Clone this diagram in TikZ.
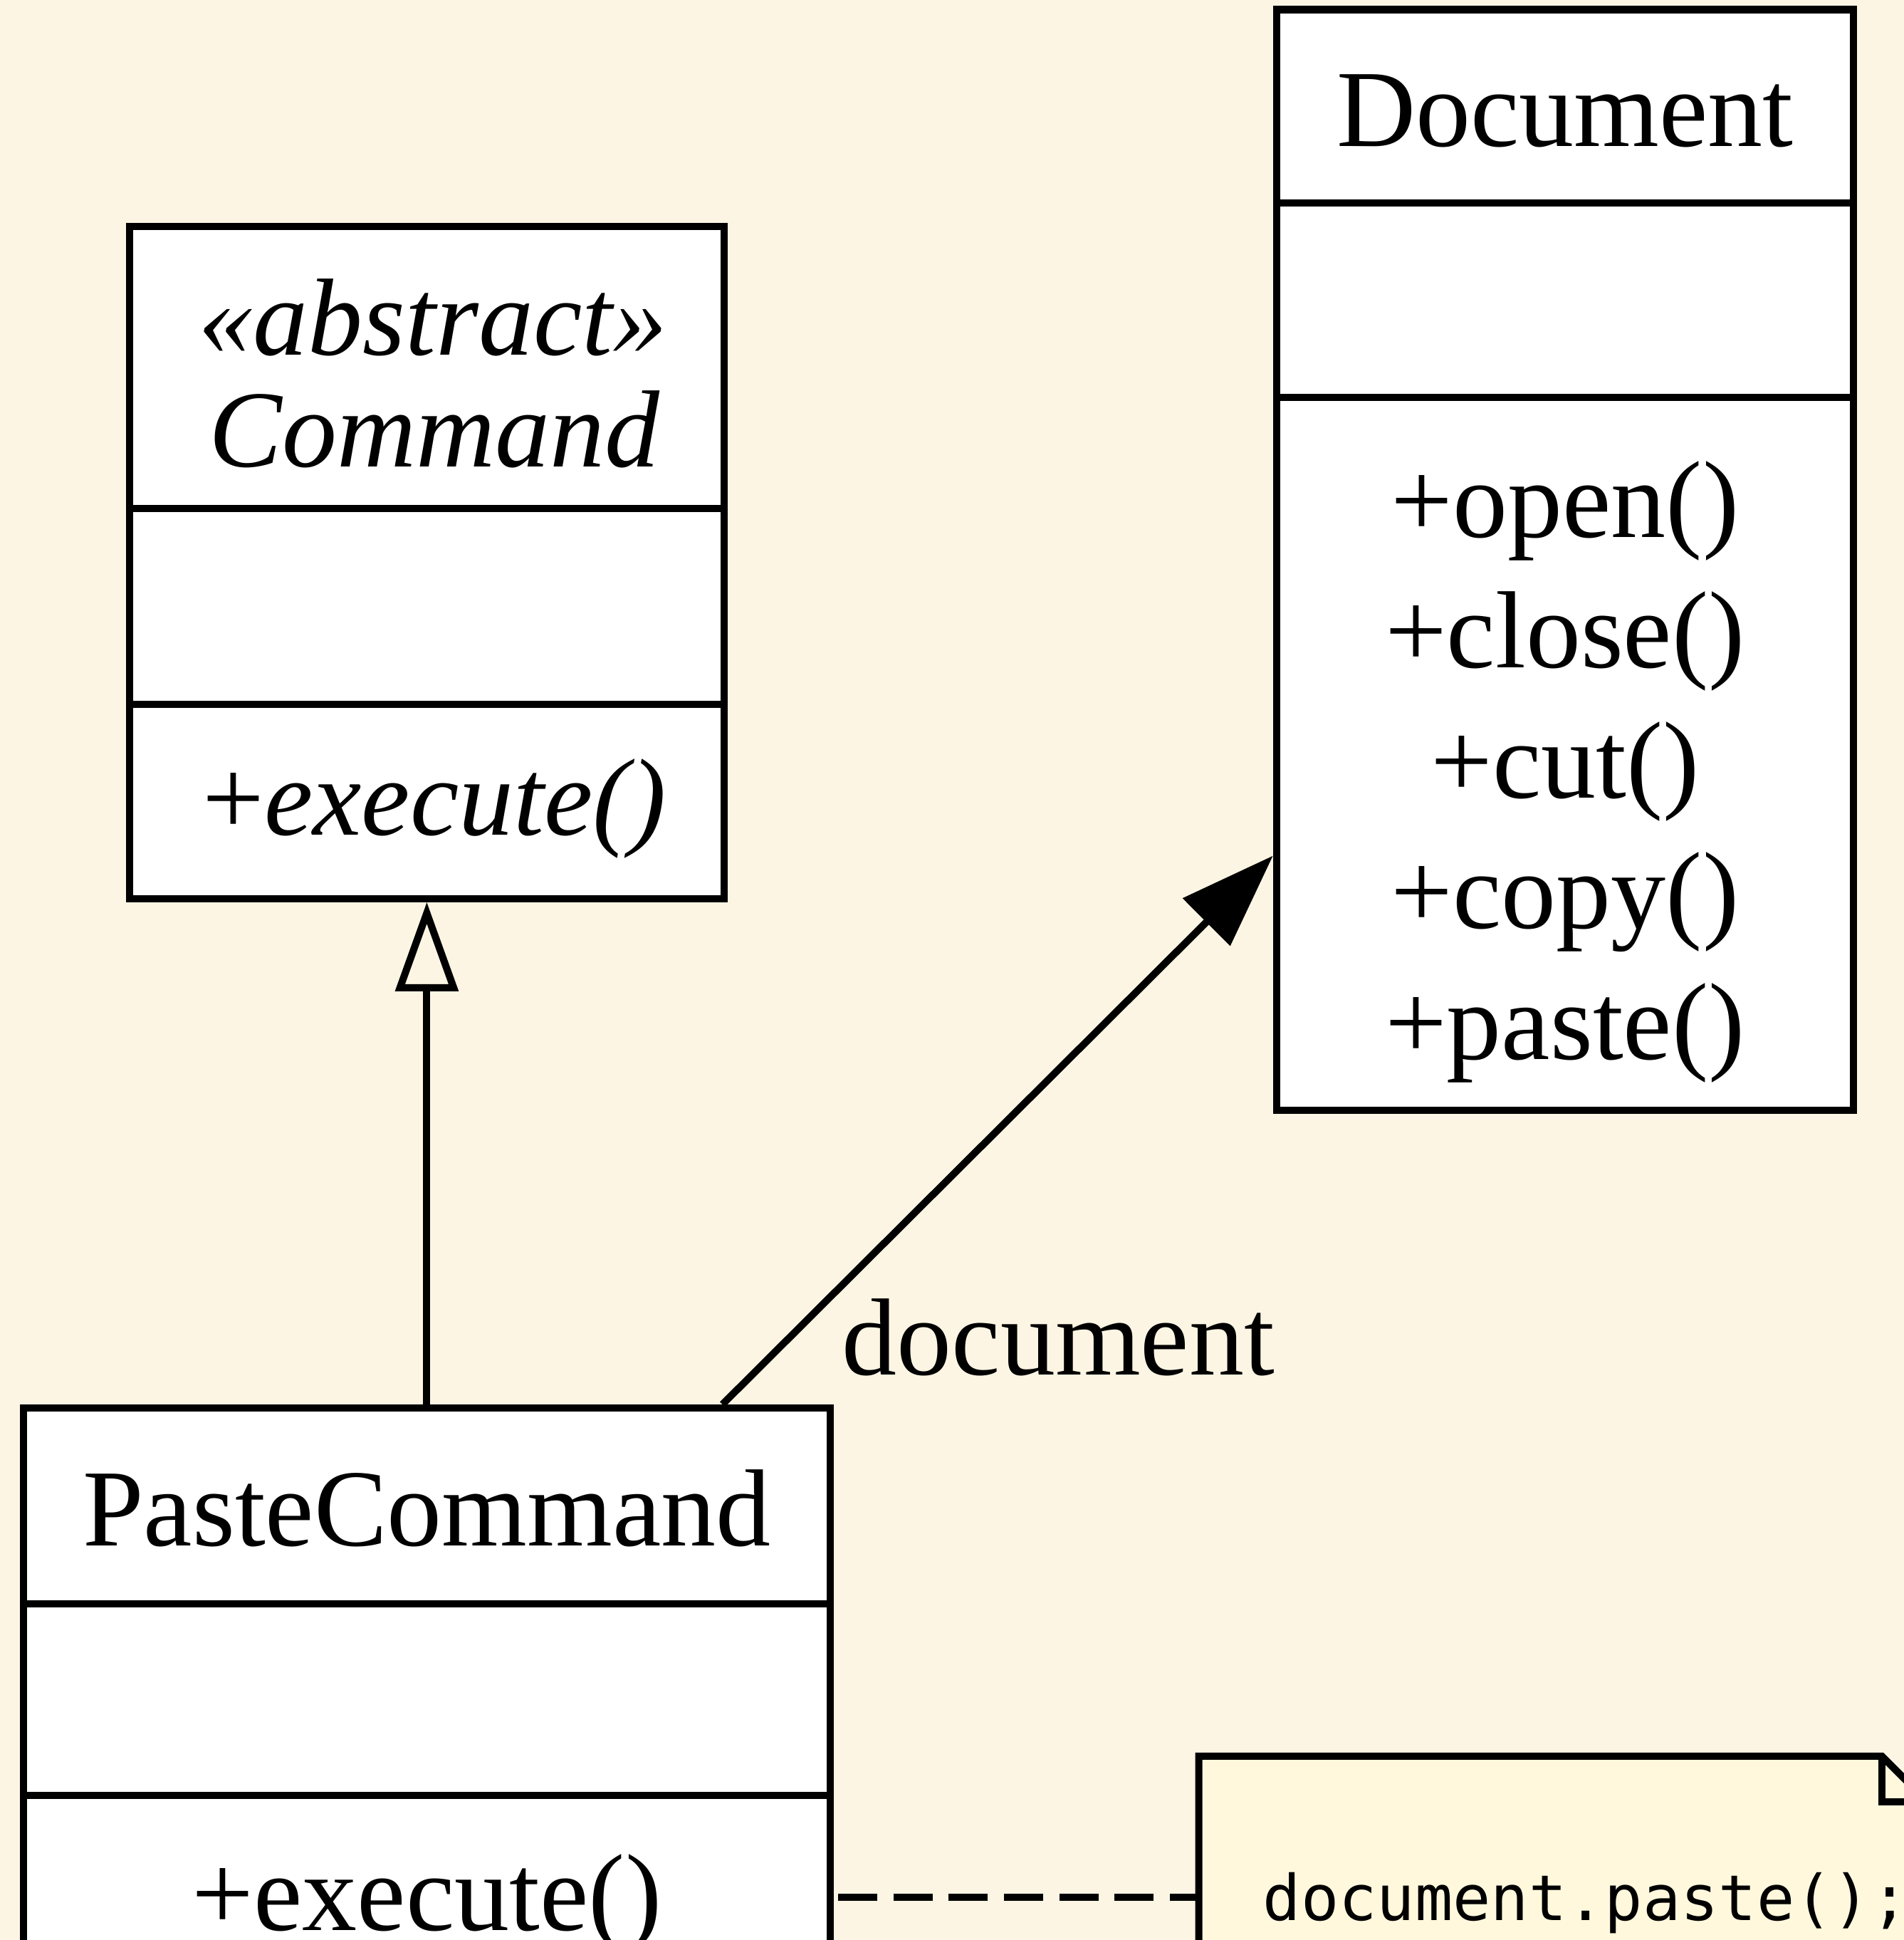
\documentclass[tikz,border=0pt]{standalone}
\usepackage{fontspec}
\setmainfont{Liberation Serif}
\newfontfamily\codefont{DejaVu Sans Mono}
\usetikzlibrary{arrows.meta,calc}

\definecolor{paper}{HTML}{FCF5E3}
\definecolor{notefill}{HTML}{FFF8DC}

\begin{document}
\begin{tikzpicture}[x=0.01cm, y=-0.01cm, line width=1.65pt,
  classbox/.style={draw, fill=white, rectangle, inner sep=0pt},
  txt/.style={anchor=base, inner sep=0pt, font=\fontsize{25.2}{30}\selectfont},
  codetxt/.style={anchor=base west, inner sep=0pt, font=\codefont\fontsize{14.5}{17}\selectfont},
  divider/.style={line width=1.65pt},
  generalization/.style={-{Triangle[open, length=0.72cm, width=0.50cm]}},
  association/.style={-{Triangle[length=0.76cm, width=0.53cm]}},
  noteline/.style={dash pattern=on 0.316cm off 0.13cm, dash phase=0.08cm}]

% page and background
\fill[paper] (0,0) rectangle (1539,1567.8);
\useasboundingbox (0,0) rectangle (1539,1567.8);
\clip (0,0) rectangle (1539,1567.8);

% abstract class Command
\node[classbox, minimum width=4.80cm, minimum height=5.43cm] (cmd) at (345,454.5) {};
\draw[divider] (cmd.west |- 0,411) -- (cmd.east |- 0,411);
\draw[divider] (cmd.west |- 0,569) -- (cmd.east |- 0,569);
\node[txt] (cmdstereo) at (350,287) {\itshape «abstract»};
\node[txt] (cmdname) at (351,377) {\itshape Command};
\node[txt] (cmdop) at (351,675) {+\textit{execute()}};

% class Document
\node[classbox, minimum width=4.66cm, minimum height=8.89cm] (doc) at (1265,452.5) {};
\draw[divider] (doc.west |- 0,164) -- (doc.east |- 0,164);
\draw[divider] (doc.west |- 0,321) -- (doc.east |- 0,321);
\node[txt] (docname) at (1265,118) {Document};
\node[txt] (docopen) at (1265,434) {+open()};
\node[txt] (docclose) at (1265,539.5) {+close()};
\node[txt] (doccut) at (1265,645) {+cut()};
\node[txt] (doccopy) at (1265,750.5) {+copy()};
\node[txt] (docpaste) at (1265,856) {+paste()};

% class PasteCommand
\node[classbox, minimum width=6.52cm, minimum height=4.74cm] (paste) at (345,1375) {};
\draw[divider] (paste.west |- 0,1296) -- (paste.east |- 0,1296);
\draw[divider] (paste.west |- 0,1451) -- (paste.east |- 0,1451);
\node[txt] (pastename) at (345,1249) {PasteCommand};
\node[txt] (pasteop) at (345,1560) {+execute()};

% note attached to PasteCommand
\node[rectangle, inner sep=0pt, outer sep=0pt, minimum width=5.888cm, minimum height=2.282cm] (note) at (1263.6,1533.4) {};
\filldraw[fill=notefill]
  (note.north west) -- ([xshift=-0.37cm]note.north east)
  -- ([yshift=-0.37cm]note.north east) -- (note.south east)
  -- (note.south west) -- cycle;
\draw ([xshift=-0.37cm]note.north east) -- ([xshift=-0.37cm,yshift=-0.37cm]note.north east)
  -- ([yshift=-0.37cm]note.north east);
\node[codetxt] (notetext) at (1018,1552) {document.paste();};

% connectors
\draw[generalization] (paste) -- (cmd);
\draw[association] ($(paste.north west)!0.863!(paste.north east)$)
  -- ($(doc.north west)!0.767!(doc.south west)$);
\node[txt] (assoclabel) at (855.5,1111) {document};
\draw[noteline] (note.west) -- (note.west -| paste.east);
\end{tikzpicture}
\end{document}
